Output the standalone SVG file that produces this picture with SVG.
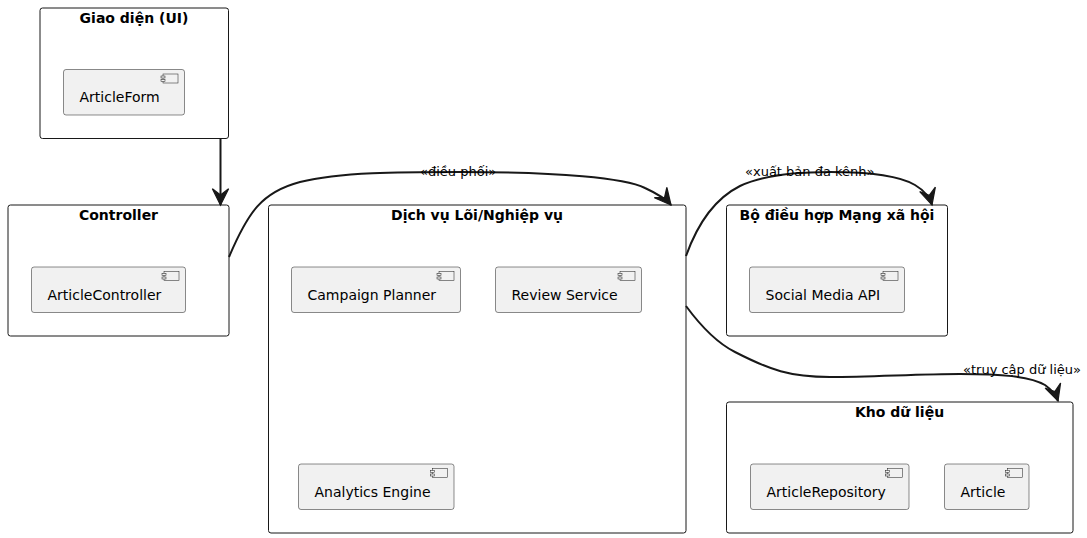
<svg xmlns="http://www.w3.org/2000/svg" width="1087" height="538" viewBox="0 0 1087 538">
<style>
.cont{fill:#FFFFFF;stroke:#181818;stroke-width:1}
.comp{fill:#F1F1F1;stroke:#181818;stroke-width:0.5}
.ico{fill:#F1F1F1;stroke:#181818;stroke-width:0.5}
.title{font-family:"DejaVu Sans",sans-serif;font-size:14px;font-weight:bold;fill:#000000;text-anchor:middle}
.lbl{font-family:"DejaVu Sans",sans-serif;font-size:14px;fill:#000000}
.elbl{font-family:"DejaVu Sans",sans-serif;font-size:13px;fill:#000000}
.edge{fill:none;stroke:#181818;stroke-width:2;marker-end:url(#arr)}
</style>
<defs>
<marker id="arr" markerUnits="userSpaceOnUse" markerWidth="20" markerHeight="20" viewBox="-14 -8 16 16" refX="0" refY="0" orient="auto">
<path d="M0,0 L-13,-6.5 L-8,0 L-13,6.5 Z" fill="#181818" stroke="#181818" stroke-width="1"/>
</marker>
<g id="icon">
<rect class="ico" x="0" y="0" width="15" height="9"/>
<rect class="ico" x="-2" y="2" width="4" height="2"/>
<rect class="ico" x="-2" y="5.5" width="4" height="2"/>
</g>
</defs>

<g id="ui">
<rect class="cont" x="40" y="8" width="188.5" height="130.5" rx="2.5"/>
<text class="title" x="134" y="22.5">Giao diện (UI)</text>
<g id="articleform">
<rect class="comp" x="63.5" y="69.5" width="121" height="45.5" rx="2.5"/>
<use href="#icon" x="163" y="74"/>
<text class="lbl" x="79.5" y="102">ArticleForm</text>
</g>
</g>

<g id="controller">
<rect class="cont" x="8" y="205" width="221" height="131" rx="2.5"/>
<text class="title" x="118.5" y="219.5">Controller</text>
<g id="articlecontroller">
<rect class="comp" x="31.5" y="267" width="154" height="45.5" rx="2.5"/>
<use href="#icon" x="164" y="271.5"/>
<text class="lbl" x="47.5" y="299.5">ArticleController</text>
</g>
</g>

<g id="core">
<rect class="cont" x="268.5" y="205" width="417.5" height="328" rx="2.5"/>
<text class="title" x="477" y="219.5">Dịch vụ Lõi/Nghiệp vụ</text>
<g id="campaign">
<rect class="comp" x="291.5" y="267" width="169" height="45.5" rx="2.5"/>
<use href="#icon" x="439" y="271.5"/>
<text class="lbl" x="307.5" y="299.5">Campaign Planner</text>
</g>
<g id="review">
<rect class="comp" x="495.5" y="267" width="146" height="45.5" rx="2.5"/>
<use href="#icon" x="620" y="271.5"/>
<text class="lbl" x="511.5" y="299.5">Review Service</text>
</g>
<g id="analytics">
<rect class="comp" x="298.5" y="464" width="155.5" height="45.5" rx="2.5"/>
<use href="#icon" x="432.5" y="468.5"/>
<text class="lbl" x="314.5" y="496.5">Analytics Engine</text>
</g>
</g>

<g id="social">
<rect class="cont" x="726.5" y="205" width="221" height="131" rx="2.5"/>
<text class="title" x="837" y="219.5">Bộ điều hợp Mạng xã hội</text>
<g id="socialapi">
<rect class="comp" x="749.5" y="267" width="155" height="45.5" rx="2.5"/>
<use href="#icon" x="883" y="271.5"/>
<text class="lbl" x="765.5" y="299.5">Social Media API</text>
</g>
</g>

<g id="data">
<rect class="cont" x="726.5" y="402" width="346.5" height="131" rx="2.5"/>
<text class="title" x="899.5" y="416.5">Kho dữ liệu</text>
<g id="repo">
<rect class="comp" x="750.5" y="464" width="158.5" height="45.5" rx="2.5"/>
<use href="#icon" x="887.5" y="468.5"/>
<text class="lbl" x="766.5" y="496.5">ArticleRepository</text>
</g>
<g id="article">
<rect class="comp" x="944.5" y="464" width="84.5" height="45.5" rx="2.5"/>
<use href="#icon" x="1007.5" y="468.5"/>
<text class="lbl" x="960.5" y="496.5">Article</text>
</g>
</g>

<g id="connectors">
<path class="edge" d="M220.5,139 L220.5,205"/>
<path class="edge" d="M229,257 C248,212 262,192 300,182 C340,172 400,172 460,172 C560,172 625,178 645,188 C658,194 666,199 671,205"/>
<text class="elbl" x="420" y="176">«điều phối»</text>
<path class="edge" d="M686,256 C696,228 712,200 740,186 C765,174 800,172 830,172 C870,172 900,176 915,185 C925,191 930,198 932,205"/>
<text class="elbl" x="745" y="176">«xuất bản đa kênh»</text>
<path class="edge" d="M686,306 C700,325 715,342 735,352 C770,370 790,377 830,377 C870,377 920,374 960,374 C1000,374 1030,376 1045,385 C1052,390 1056,395 1058,401"/>
<text class="elbl" x="963" y="374">«truy cập dữ liệu»</text>
</g>
</svg>
